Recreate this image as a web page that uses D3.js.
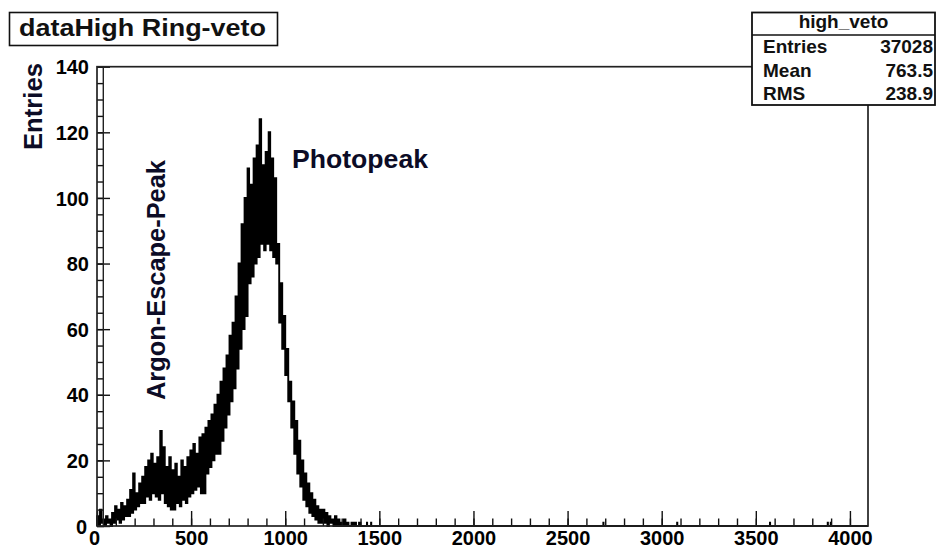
<!DOCTYPE html>
<html><head><meta charset="utf-8">
<script src="https://cdn.jsdelivr.net/npm/d3@7"></script>
<style>
body{margin:0;background:#fff}
svg{display:block}
text{font-family:"Liberation Sans",Arial,Helvetica,sans-serif;font-weight:bold}
</style>
</head><body>
<svg id="c" width="936" height="548"></svg>
<script>
// ---- data ----
const binWidth = 8; // channels per bin
const counts = [
  3,0,5,1,2,0,3,1,2,0,
  4,1,6,2,5,1,7,2,6,3,
  8,3,11,4,16,5,10,6,13,7,
  15,7,18,9,20,8,22,10,19,9,
  21,8,29,10,24,7,18,6,21,5,
  17,5,19,7,15,6,20,8,18,7,
  21,9,23,10,25,11,22,12,27,10,
  28,10,30,16,32,18,34,20,37,22,
  40,22,44,26,48,30,52,34,58,38,
  62,42,70,48,80,54,92,60,100,64,
  109,74,104,76,112,80,116,82,124,86,
  110,84,114,86,120,84,112,82,106,80,
  86,62,74,54,64,46,54,38,44,30,
  38,22,32,16,26,12,20,8,16,6,
  13,4,10,3,8,2,6,1,5,1,
  5,1,4,0,3,1,2,0,3,0,
  2,0,1,0,2,0,1,0,0,1,
  0,1,0,0,1
];
const tailChannels = [1434, 1456, 2690, 3082, 3575, 3882, 3898];
const tailCounts   = [1, 1, 1, 1, 1, 1, 1];
const xMajorTicks = [0,500,1000,1500,2000,2500,3000,3500,4000];
const yMajorTicks = [0,20,40,60,80,100,120,140];
const xMax = 4096, yMax = 140;
const titleText = "dataHigh Ring-veto";
const yTitle = "Entries";
const statsName = "high_veto";
const statsLabels = ["Entries","Mean","RMS"];
const statsValues = ["37028","763.5","238.9"];
const annotations = ["Photopeak","Argon-Escape-Peak"];

// ---- layout ----
const L = 97, R = 868, T = 66.7, B = 526;
const svg = d3.select("#c");
const x = d3.scaleLinear().domain([0, xMax]).range([L, R]);
const y = d3.scaleLinear().domain([0, yMax]).range([B, T]);

// histogram path
const bins = counts.map((c,i)=>({x0:i*binWidth, x1:(i+1)*binWidth, c}));
tailChannels.forEach((ch,i)=>bins.push({x0:ch, x1:ch+1, c:tailCounts[i]}));
bins.sort((a,b)=>a.x0-b.x0);
const p = d3.path();
p.moveTo(x(0), y(0));
let prevEnd = 0;
bins.forEach(b=>{
  if (b.x0 > prevEnd) { p.lineTo(x(prevEnd), y(0)); p.lineTo(x(b.x0), y(0)); }
  p.lineTo(x(b.x0), y(b.c)); p.lineTo(x(b.x1), y(b.c));
  prevEnd = b.x1;
});
p.lineTo(x(prevEnd), y(0)); p.lineTo(x(xMax), y(0));
svg.append("path").attr("d", p.toString()).attr("fill","none")
  .attr("stroke","#000").attr("stroke-width",1.9).attr("stroke-linejoin","miter");

// axes (ticks inward)
const xMinor = d3.range(0, 4001, 100);
const yMinor = d3.range(0, 141, 5);
const gx = svg.append("g").attr("transform",`translate(0,${B})`);
gx.call(d3.axisBottom(x).tickValues(xMinor).tickSize(-7.5).tickFormat(""));
gx.select(".domain").remove();
const gx2 = svg.append("g").attr("transform",`translate(0,${B})`);
gx2.call(d3.axisBottom(x).tickValues(xMajorTicks).tickSize(-15).tickPadding(0).tickFormat(d3.format("d")));
gx2.select(".domain").remove();
gx2.attr("font-family", null).attr("font-size", null);
gx.attr("font-family", null);
gx2.selectAll(".tick text").attr("y", 19).attr("dy", 0)
  .attr("font-size", 20).attr("fill","#000")
  .attr("dx", d=> d===0 ? -3 : 0);

const gy = svg.append("g").attr("transform",`translate(${L},0)`);
gy.call(d3.axisLeft(y).tickValues(yMinor).tickSize(-7).tickFormat(""));
gy.select(".domain").remove();
const gy2 = svg.append("g").attr("transform",`translate(${L},0)`);
gy2.call(d3.axisLeft(y).tickValues(yMajorTicks).tickSize(-13).tickPadding(0).tickFormat(d3.format("d")));
gy2.select(".domain").remove();
gy2.attr("font-family", null).attr("font-size", null);
gy.attr("font-family", null);
gy2.selectAll(".tick text").attr("x", -8).attr("dy","0.36em")
  .attr("font-size", 20).attr("fill","#000")
  .attr("transform", d=> d===0 ? "translate(-2,0)" : null);
svg.selectAll(".tick line").attr("stroke","#111").attr("stroke-width",1.4);

// extra inner vertical line near the y axis
svg.append("line").attr("x1", L+6.3).attr("x2", L+6.3).attr("y1", T).attr("y2", B)
  .attr("stroke","#222").attr("stroke-width",1.4);

// frame
svg.append("rect").attr("x",L).attr("y",T).attr("width",R-L).attr("height",B-T)
  .attr("fill","none").attr("stroke","#222").attr("stroke-width",1.7);

// title box
svg.append("rect").attr("x",9.5).attr("y",12.5).attr("width",268).attr("height",33)
  .attr("fill","#fff").attr("stroke","#111").attr("stroke-width",1.6);
svg.append("text").attr("x",19).attr("y",36).attr("font-size",24)
  .attr("textLength",247).attr("lengthAdjust","spacingAndGlyphs")
  .attr("fill","#111").text(titleText);

// y title
svg.append("text").attr("transform","translate(42,63) rotate(-90)")
  .attr("text-anchor","end").attr("font-size",25)
  .attr("textLength",87).attr("lengthAdjust","spacingAndGlyphs")
  .attr("fill","#0c0c26").text(yTitle);

// annotations
svg.append("text").attr("x",292).attr("y",168).attr("font-size",26)
  .attr("textLength",136).attr("lengthAdjust","spacingAndGlyphs")
  .attr("fill","#0c0c26").text(annotations[0]);
svg.append("text").attr("transform","translate(165,400) rotate(-90)")
  .attr("font-size",25).attr("textLength",240).attr("lengthAdjust","spacingAndGlyphs")
  .attr("fill","#0c0c26").text(annotations[1]);

// stats box
const sx = 752, sy = 12.5, sw = 183, sh = 92.5;
svg.append("rect").attr("x",sx).attr("y",sy).attr("width",sw).attr("height",sh)
  .attr("fill","#fff").attr("stroke","#111").attr("stroke-width",1.8);
svg.append("line").attr("x1",sx).attr("x2",sx+sw).attr("y1",35).attr("y2",35)
  .attr("stroke","#111").attr("stroke-width",1.6);
svg.append("text").attr("x",sx+sw/2).attr("y",28).attr("text-anchor","middle")
  .attr("font-size",19).attr("fill","#111").text(statsName);
const rowY = [53,77,100];
statsLabels.forEach((lab,i)=>{
  svg.append("text").attr("x",763).attr("y",rowY[i]).attr("font-size",19).attr("fill","#111").text(lab);
  svg.append("text").attr("x",933).attr("y",rowY[i]).attr("text-anchor","end").attr("font-size",19).attr("fill","#111").text(statsValues[i]);
});
</script>
</body></html>
